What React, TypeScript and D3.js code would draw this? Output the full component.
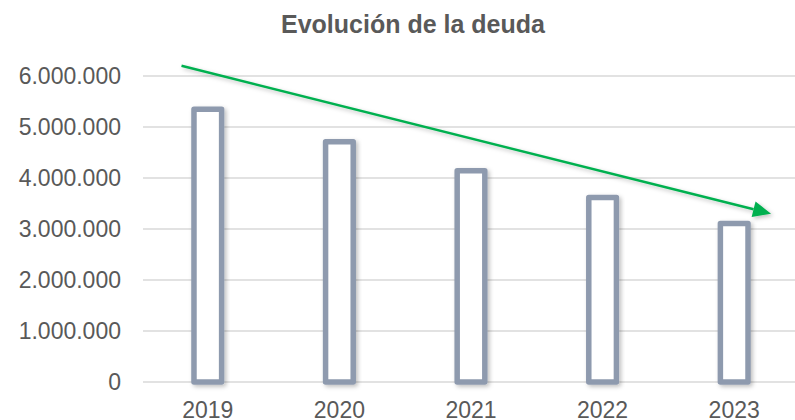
import React from 'react';
import * as d3 from 'd3';

const years = ['2019', '2020', '2021', '2022', '2023'];
const debt = [5350000, 4710000, 4140000, 3620000, 3110000];
const yTicks = [0, 1000000, 2000000, 3000000, 4000000, 5000000, 6000000];
// trend arrow, in category-index / value units
const trendFrom = { idx: -0.2, value: 6200000 };
const trendTo = { idx: 4.28, value: 3300000 };

const width = 795;
const height = 420;
const textColor = '#595959';
const barColor = '#8e9aae';
const green = '#00b050';

const fmt = (v: number) => d3.format(',')(v).replace(/,/g, '.');

export default function App() {
  const x = d3.scaleBand<string>()
    .domain(years)
    .range([142, 800])
    .paddingInner(0.79)
    .paddingOuter(0.395);

  const y = d3.scaleLinear().domain([0, 6000000]).range([382, 76]);

  const idxX = d3.scaleLinear()
    .domain([0, years.length - 1])
    .range([x(years[0])! + x.bandwidth() / 2, x(years[years.length - 1])! + x.bandwidth() / 2]);

  const x1 = idxX(trendFrom.idx), y1 = y(trendFrom.value);
  const x2 = idxX(trendTo.idx), y2 = y(trendTo.value);
  const ang = Math.atan2(y2 - y1, x2 - x1);
  const headLen = 18, headW = 8;
  const bx = x2 - headLen * Math.cos(ang), by = y2 - headLen * Math.sin(ang);
  const head = [
    [x2, y2],
    [bx + headW * Math.sin(ang), by - headW * Math.cos(ang)],
    [bx - headW * Math.sin(ang), by + headW * Math.cos(ang)],
  ];

  return (
    <svg width={width} height={height} style={{ position: 'absolute', left: 0, top: 0, fontFamily: 'Liberation Sans, Arial, sans-serif' }}>
      <defs>
        <filter id="shadow" x="-20%" y="-20%" width="150%" height="150%">
          <feDropShadow dx="2" dy="2" stdDeviation="2" floodColor="#000" floodOpacity="0.25" />
        </filter>
      </defs>
      <rect width={width} height={height} fill="#fff" />
      <text x={413} y={33} textAnchor="middle" fontSize={25} fontWeight="bold" fill={textColor}>
        Evolución de la deuda
      </text>

      {yTicks.map((t) => (
        <g key={t}>
          <line x1={143} x2={800} y1={y(t)} y2={y(t)} stroke="#d9d9d9" strokeWidth={1.5} />
          <text x={121} y={y(t)} dy="0.35em" textAnchor="end" fontSize={23} fill={textColor}>
            {fmt(t)}
          </text>
        </g>
      ))}

      {years.map((yr, i) => (
        <g key={yr}>
          <rect
            x={x(yr)!}
            y={y(debt[i])}
            width={x.bandwidth()}
            height={y(0) - y(debt[i])}
            fill="#fff"
            stroke={barColor}
            strokeWidth={5.5}
            strokeLinejoin="round"
            filter="url(#shadow)"
          />
          <text x={x(yr)! + x.bandwidth() / 2} y={418} textAnchor="middle" fontSize={23} fill={textColor}>
            {yr}
          </text>
        </g>
      ))}

      <g filter="url(#shadow)">
        <line x1={x1} y1={y1} x2={bx} y2={by} stroke={green} strokeWidth={2.5} />
        <polygon points={head.map((p) => p.join(',')).join(' ')} fill={green} />
      </g>
    </svg>
  );
}
